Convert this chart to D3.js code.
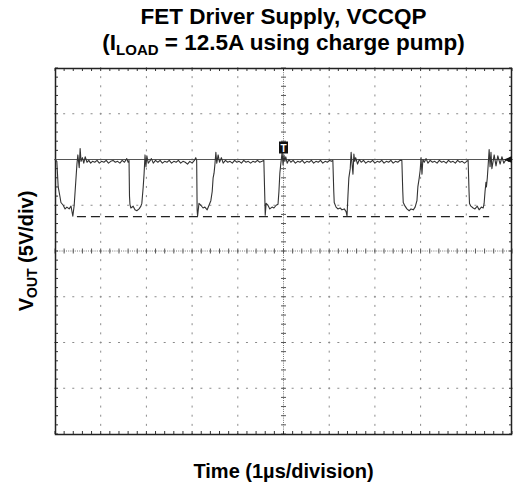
<!DOCTYPE html>
<html>
<head>
<meta charset="utf-8">
<script src="https://cdn.jsdelivr.net/npm/d3@7"></script>
<style>
  html, body { margin: 0; padding: 0; background: #fff; }
  svg { display: block; }
  text { font-family: "Liberation Sans", Arial, sans-serif; font-weight: bold; fill: #000; }
</style>
</head>
<body>
<svg id="chart" width="513" height="489"></svg>
<script>
// ---- data ----
const titleLine1 = "FET Driver Supply, VCCQP";
const titleLine2 = ["(I", "LOAD", " = 12.5A using charge pump)"];
const xLabel = "Time (1\u00b5s/division)";
const yLabel = ["V", "OUT", " (5V/div)"];

const timeDomain = [0, 10];          // µs, 1 µs / division
const voltDomain = [-20, 20];        // V, 5 V / division
const majorTimes = [0, 1, 2, 3, 4, 5, 6, 7, 8, 9, 10];
const majorVolts = [-20, -15, -10, -5, 0, 5, 10, 15, 20];
const minorPerDiv = 5;

const cursorLevel = 10;              // solid reference line (V)
const dashedLevel = 3.75;            // dashed minimum line (V)
const dashedSpan = [0.48, 9.5];      // µs
const triggerTime = 5.0;             // µs
const groundMarkerLevel = 10;        // V

// oscilloscope trace samples [time µs, volts]
const traceSamples = [
  [0.00, 10.0], [0.04, 9.8], [0.07, 7.0], [0.11, 5.9], [0.13, 5.3], [0.18, 5.0], [0.22, 4.6],
  [0.26, 4.8], [0.31, 4.6], [0.35, 4.9], [0.39, 3.8], [0.42, 5.0], [0.44, 6.5], [0.48, 9.5],
  [0.50, 10.5], [0.53, 9.1], [0.55, 11.2], [0.57, 9.8],
  [0.60, 10.2], [0.63, 9.6], [0.66, 10.3], [0.70, 9.7], [0.74, 9.9], [0.78, 9.6], [0.82, 9.8],
  [0.87, 9.7], [0.92, 9.9], [0.97, 9.6], [1.02, 9.8], [1.07, 9.7], [1.12, 9.9], [1.17, 9.6],
  [1.22, 9.8], [1.27, 9.9], [1.32, 9.7], [1.37, 9.8], [1.42, 9.6], [1.47, 9.9], [1.52, 9.7],
  [1.57, 10.1], [1.60, 9.7],
  [1.62, 9.9], [1.63, 6.0], [1.64, 5.1], [1.66, 4.7], [1.71, 4.9], [1.75, 4.5], [1.79, 4.4],
  [1.84, 4.6], [1.88, 4.9], [1.90, 5.2], [1.93, 7.0], [1.95, 8.5], [1.97, 10.5], [1.99, 9.2],
  [2.01, 10.4], [2.04, 9.6],
  [2.07, 9.8], [2.11, 10.1], [2.15, 9.6], [2.20, 9.9], [2.25, 9.7], [2.30, 9.9], [2.35, 9.6],
  [2.40, 9.8], [2.45, 9.7], [2.50, 9.9], [2.55, 9.6], [2.60, 9.8], [2.65, 9.7], [2.70, 9.9],
  [2.75, 9.6], [2.80, 9.8], [2.85, 9.7], [2.90, 9.5], [2.95, 9.8], [3.00, 9.6], [3.05, 9.9],
  [3.08, 10.2],
  [3.10, 9.9], [3.11, 4.5], [3.12, 3.8], [3.15, 5.2], [3.19, 5.0], [3.24, 4.7], [3.28, 4.8],
  [3.33, 4.5], [3.37, 5.0], [3.41, 5.5], [3.44, 6.5], [3.46, 8.0], [3.48, 8.5], [3.50, 9.5],
  [3.52, 10.8], [3.54, 9.6], [3.57, 10.5],
  [3.60, 9.7], [3.64, 10.2], [3.68, 9.6], [3.73, 9.9], [3.78, 9.7], [3.83, 9.8], [3.88, 9.6],
  [3.93, 9.9], [3.98, 9.7], [4.03, 9.8], [4.08, 9.6], [4.13, 9.9], [4.18, 9.7], [4.23, 9.8],
  [4.28, 9.6], [4.33, 9.8], [4.38, 9.7], [4.43, 9.9], [4.48, 9.7], [4.53, 9.8],
  [4.57, 9.9], [4.59, 6.0], [4.60, 3.9], [4.62, 5.2], [4.66, 5.0], [4.70, 4.6], [4.75, 4.8],
  [4.79, 4.7], [4.84, 5.0], [4.88, 5.1], [4.90, 6.5], [4.92, 8.5], [4.94, 9.5], [4.97, 10.8],
  [4.99, 9.4], [5.01, 10.5], [5.03, 9.8], [5.05, 10.3],
  [5.08, 9.6], [5.12, 10.0], [5.16, 9.7], [5.21, 9.9], [5.26, 9.6], [5.31, 9.8], [5.36, 9.7],
  [5.41, 9.9], [5.46, 9.6], [5.51, 9.8], [5.56, 9.7], [5.61, 9.9], [5.66, 9.6], [5.71, 9.8],
  [5.76, 9.7], [5.81, 9.9], [5.86, 9.6], [5.91, 9.8], [5.96, 9.7], [6.01, 9.9], [6.05, 9.8],
  [6.08, 9.9], [6.10, 6.5], [6.11, 5.3], [6.15, 4.8], [6.19, 4.6], [6.24, 4.7], [6.28, 4.5],
  [6.33, 4.6], [6.37, 4.3], [6.39, 3.8], [6.41, 6.0], [6.43, 8.0], [6.46, 9.0], [6.48, 10.8],
  [6.50, 9.5], [6.52, 8.4], [6.54, 10.6], [6.56, 9.8],
  [6.58, 10.2], [6.62, 9.5], [6.66, 10.0], [6.70, 9.7], [6.75, 9.9], [6.80, 9.6], [6.85, 9.8],
  [6.90, 9.7], [6.95, 9.9], [7.00, 9.6], [7.05, 9.8], [7.10, 9.7], [7.15, 9.9], [7.20, 9.6],
  [7.25, 9.8], [7.30, 9.7], [7.35, 9.9], [7.40, 9.6], [7.45, 9.8], [7.50, 9.7], [7.55, 9.9],
  [7.59, 9.9], [7.61, 6.5], [7.62, 5.3], [7.66, 4.9], [7.70, 4.6], [7.75, 4.4], [7.79, 4.6],
  [7.84, 4.5], [7.88, 4.8], [7.92, 5.5], [7.94, 7.0], [7.97, 8.0], [7.99, 8.8], [8.01, 10.2],
  [8.03, 8.4], [8.05, 10.0],
  [8.08, 9.7], [8.12, 10.1], [8.16, 9.6], [8.21, 9.9], [8.26, 9.7], [8.31, 9.8], [8.36, 9.6],
  [8.41, 9.9], [8.46, 9.7], [8.51, 9.8], [8.56, 9.6], [8.61, 9.9], [8.66, 9.7], [8.71, 9.8],
  [8.76, 9.6], [8.81, 9.9], [8.86, 9.7], [8.91, 9.8], [8.96, 9.6], [9.01, 9.8],
  [9.04, 9.9], [9.06, 6.5], [9.07, 5.2], [9.10, 4.9], [9.15, 4.7], [9.19, 4.6], [9.24, 4.9],
  [9.28, 4.5], [9.33, 4.8], [9.37, 4.7], [9.39, 5.2], [9.41, 6.5], [9.43, 7.5], [9.44, 7.0],
  [9.46, 8.0], [9.48, 9.5], [9.50, 11.1], [9.52, 9.2], [9.54, 10.8], [9.56, 9.0], [9.61, 10.5],
  [9.65, 9.3], [9.69, 10.4], [9.74, 9.5], [9.78, 10.3], [9.82, 9.6], [9.87, 10.0], [9.93, 9.8],
  [10.0, 10.0]
];

// ---- layout ----
const svg = d3.select("#chart");
const plot = { left: 55, top: 68, width: 457, height: 366 };

const x = d3.scaleLinear().domain(timeDomain).range([plot.left, plot.left + plot.width]);
const y = d3.scaleLinear().domain(voltDomain).range([plot.top + plot.height, plot.top]);

const minorTimes = d3.range(0, majorTimes.length - 1)
  .flatMap(i => d3.range(0, minorPerDiv).map(j => majorTimes[i] + j / minorPerDiv));
minorTimes.push(timeDomain[1]);
const minorVolts = d3.range(0, majorVolts.length - 1)
  .flatMap(i => d3.range(0, minorPerDiv).map(j => majorVolts[i] + j * 5 / minorPerDiv));
minorVolts.push(voltDomain[1]);

const midT = (timeDomain[0] + timeDomain[1]) / 2;
const midV = (voltDomain[0] + voltDomain[1]) / 2;

// ---- grid (dotted major lines, dots at minor positions) ----
const grid = svg.append("g").attr("class", "grid");
const innerT = majorTimes.filter(t => t !== timeDomain[0] && t !== timeDomain[1] && t !== midT);
const innerV = majorVolts.filter(v => v !== voltDomain[0] && v !== voltDomain[1] && v !== midV);

innerT.forEach(t => {
  grid.selectAll(null).data(minorVolts).enter().append("rect")
    .attr("x", x(t) - 0.5).attr("y", v => y(v) - 1)
    .attr("width", 1).attr("height", 2).attr("fill", "#8a8a8a");
});
innerV.forEach(v => {
  grid.selectAll(null).data(minorTimes).enter().append("rect")
    .attr("x", t => x(t) - 1).attr("y", y(v) - 0.5)
    .attr("width", 2).attr("height", 1).attr("fill", "#8a8a8a");
});

// center axes: dense dotted line + cross ticks
grid.append("line")
  .attr("x1", x(timeDomain[0])).attr("x2", x(timeDomain[1]))
  .attr("y1", y(midV)).attr("y2", y(midV))
  .attr("stroke", "#777").attr("stroke-width", 1).attr("stroke-dasharray", "1,1.2");
grid.append("line")
  .attr("x1", x(midT)).attr("x2", x(midT))
  .attr("y1", y(voltDomain[0])).attr("y2", y(voltDomain[1]))
  .attr("stroke", "#777").attr("stroke-width", 1).attr("stroke-dasharray", "1,1.2");
grid.selectAll(null).data(minorTimes).enter().append("line")
  .attr("x1", t => x(t)).attr("x2", t => x(t))
  .attr("y1", y(midV) - 2.5).attr("y2", y(midV) + 2.5)
  .attr("stroke", "#555").attr("stroke-width", 1);
grid.selectAll(null).data(minorVolts).enter().append("line")
  .attr("y1", v => y(v)).attr("y2", v => y(v))
  .attr("x1", x(midT) - 2.5).attr("x2", x(midT) + 2.5)
  .attr("stroke", "#555").attr("stroke-width", 1);

// border ticks
const ticks = svg.append("g").attr("class", "ticks");
ticks.selectAll(null).data(minorTimes).enter().append("line")
  .attr("x1", t => x(t)).attr("x2", t => x(t))
  .attr("y1", y(voltDomain[1])).attr("y2", y(voltDomain[1]) + 3)
  .attr("stroke", "#333");
ticks.selectAll(null).data(minorTimes).enter().append("line")
  .attr("x1", t => x(t)).attr("x2", t => x(t))
  .attr("y1", y(voltDomain[0])).attr("y2", y(voltDomain[0]) - 3)
  .attr("stroke", "#333");
ticks.selectAll(null).data(minorVolts).enter().append("line")
  .attr("y1", v => y(v)).attr("y2", v => y(v))
  .attr("x1", x(timeDomain[0])).attr("x2", x(timeDomain[0]) + 3)
  .attr("stroke", "#333");
ticks.selectAll(null).data(minorVolts).enter().append("line")
  .attr("y1", v => y(v)).attr("y2", v => y(v))
  .attr("x1", x(timeDomain[1])).attr("x2", x(timeDomain[1]) - 3)
  .attr("stroke", "#333");

// frame
svg.append("rect")
  .attr("x", x(timeDomain[0]) + 0.5).attr("y", y(voltDomain[1]) + 0.5)
  .attr("width", x(timeDomain[1]) - x(timeDomain[0]) - 1)
  .attr("height", y(voltDomain[0]) - y(voltDomain[1]))
  .attr("fill", "none").attr("stroke", "#222").attr("stroke-width", 1.5);

// cursor line & dashed min line
svg.append("line")
  .attr("x1", x(timeDomain[0])).attr("x2", x(timeDomain[1]))
  .attr("y1", y(cursorLevel)).attr("y2", y(cursorLevel))
  .attr("stroke", "#555").attr("stroke-width", 1);
svg.append("line")
  .attr("x1", x(dashedSpan[0])).attr("x2", x(dashedSpan[1]))
  .attr("y1", y(dashedLevel)).attr("y2", y(dashedLevel))
  .attr("stroke", "#222").attr("stroke-width", 1.3).attr("stroke-dasharray", "9,5");

// trace
const line = d3.line().x(d => x(d[0])).y(d => y(d[1]));
svg.append("path")
  .datum(traceSamples)
  .attr("d", line)
  .attr("fill", "none").attr("stroke", "#333").attr("stroke-width", 1.1)
  .attr("stroke-linejoin", "round");

// trigger marker
const trig = svg.append("g")
  .attr("transform", `translate(${x(triggerTime)},${y(cursorLevel) - 12})`);
trig.append("rect").attr("x", -4.5).attr("y", -6).attr("width", 9).attr("height", 12).attr("fill", "#111");
trig.append("text").attr("x", 0).attr("y", 4).attr("text-anchor", "middle")
  .style("font-size", "10px").style("fill", "#fff").text("T");

// ground / level marker (right edge arrow)
const gx = x(timeDomain[1]);
const gy = y(groundMarkerLevel);
svg.append("path")
  .attr("d", `M${gx - 8},${gy} L${gx},${gy - 3.5} L${gx},${gy + 3.5} Z`)
  .attr("fill", "#111");

// ---- titles ----
svg.append("text").attr("x", x(midT)).attr("y", 24).attr("text-anchor", "middle")
  .style("font-size", "22.5px").text(titleLine1);
const t2 = svg.append("text").attr("x", x(midT)).attr("y", 50).attr("text-anchor", "middle")
  .style("font-size", "22.5px");
t2.append("tspan").text(titleLine2[0]);
t2.append("tspan").attr("dy", 5).style("font-size", "15px").text(titleLine2[1]);
t2.append("tspan").attr("dy", -5).text(titleLine2[2]);

svg.append("text").attr("x", x(midT)).attr("y", 478).attr("text-anchor", "middle")
  .style("font-size", "20px").text(xLabel);

const yl = svg.append("text")
  .attr("transform", `translate(33,${y(midV)}) rotate(-90)`)
  .attr("text-anchor", "middle").style("font-size", "20px");
yl.append("tspan").text(yLabel[0]);
yl.append("tspan").attr("dy", 4).style("font-size", "14px").text(yLabel[1]);
yl.append("tspan").attr("dy", -4).text(yLabel[2]);
</script>
</body>
</html>
